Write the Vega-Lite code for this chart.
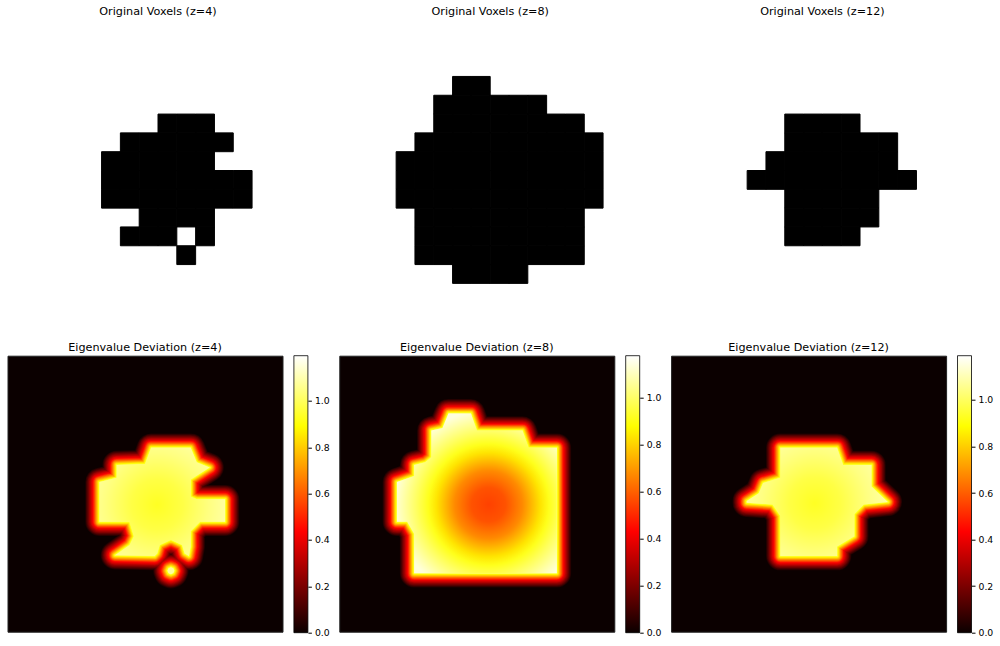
{"$schema":"https://vega.github.io/schema/vega-lite/v6.json","padding":{"left":6.5,"top":5,"right":0,"bottom":0},"background":"white","config":{"font":"DejaVu Sans","title":{"fontSize":11.2,"fontWeight":"normal","color":"#000","offset":3,"anchor":"middle"},"view":{"stroke":null},"axis":{"labelFontSize":9.3,"labelColor":"#000","tickColor":"#000","tickSize":3.5,"domain":false,"grid":false,"title":null,"labelPadding":3}},
"datasets":{
"v4":[{"c":8,"r":5},{"c":9,"r":5},{"c":10,"r":5},{"c":6,"r":6},{"c":7,"r":6},{"c":8,"r":6},{"c":9,"r":6},{"c":10,"r":6},{"c":11,"r":6},{"c":5,"r":7},{"c":6,"r":7},{"c":7,"r":7},{"c":8,"r":7},{"c":9,"r":7},{"c":10,"r":7},{"c":5,"r":8},{"c":6,"r":8},{"c":7,"r":8},{"c":8,"r":8},{"c":9,"r":8},{"c":10,"r":8},{"c":11,"r":8},{"c":12,"r":8},{"c":5,"r":9},{"c":6,"r":9},{"c":7,"r":9},{"c":8,"r":9},{"c":9,"r":9},{"c":10,"r":9},{"c":11,"r":9},{"c":12,"r":9},{"c":7,"r":10},{"c":8,"r":10},{"c":9,"r":10},{"c":10,"r":10},{"c":6,"r":11},{"c":7,"r":11},{"c":8,"r":11},{"c":10,"r":11},{"c":9,"r":12}],
"v8":[{"c":6,"r":3},{"c":7,"r":3},{"c":5,"r":4},{"c":6,"r":4},{"c":7,"r":4},{"c":8,"r":4},{"c":9,"r":4},{"c":10,"r":4},{"c":5,"r":5},{"c":6,"r":5},{"c":7,"r":5},{"c":8,"r":5},{"c":9,"r":5},{"c":10,"r":5},{"c":11,"r":5},{"c":12,"r":5},{"c":4,"r":6},{"c":5,"r":6},{"c":6,"r":6},{"c":7,"r":6},{"c":8,"r":6},{"c":9,"r":6},{"c":10,"r":6},{"c":11,"r":6},{"c":12,"r":6},{"c":13,"r":6},{"c":3,"r":7},{"c":4,"r":7},{"c":5,"r":7},{"c":6,"r":7},{"c":7,"r":7},{"c":8,"r":7},{"c":9,"r":7},{"c":10,"r":7},{"c":11,"r":7},{"c":12,"r":7},{"c":13,"r":7},{"c":3,"r":8},{"c":4,"r":8},{"c":5,"r":8},{"c":6,"r":8},{"c":7,"r":8},{"c":8,"r":8},{"c":9,"r":8},{"c":10,"r":8},{"c":11,"r":8},{"c":12,"r":8},{"c":13,"r":8},{"c":3,"r":9},{"c":4,"r":9},{"c":5,"r":9},{"c":6,"r":9},{"c":7,"r":9},{"c":8,"r":9},{"c":9,"r":9},{"c":10,"r":9},{"c":11,"r":9},{"c":12,"r":9},{"c":13,"r":9},{"c":4,"r":10},{"c":5,"r":10},{"c":6,"r":10},{"c":7,"r":10},{"c":8,"r":10},{"c":9,"r":10},{"c":10,"r":10},{"c":11,"r":10},{"c":12,"r":10},{"c":4,"r":11},{"c":5,"r":11},{"c":6,"r":11},{"c":7,"r":11},{"c":8,"r":11},{"c":9,"r":11},{"c":10,"r":11},{"c":11,"r":11},{"c":12,"r":11},{"c":4,"r":12},{"c":5,"r":12},{"c":6,"r":12},{"c":7,"r":12},{"c":8,"r":12},{"c":9,"r":12},{"c":10,"r":12},{"c":11,"r":12},{"c":12,"r":12},{"c":6,"r":13},{"c":7,"r":13},{"c":8,"r":13},{"c":9,"r":13}],
"v12":[{"c":6,"r":5},{"c":7,"r":5},{"c":8,"r":5},{"c":9,"r":5},{"c":6,"r":6},{"c":7,"r":6},{"c":8,"r":6},{"c":9,"r":6},{"c":10,"r":6},{"c":11,"r":6},{"c":5,"r":7},{"c":6,"r":7},{"c":7,"r":7},{"c":8,"r":7},{"c":9,"r":7},{"c":10,"r":7},{"c":11,"r":7},{"c":4,"r":8},{"c":5,"r":8},{"c":6,"r":8},{"c":7,"r":8},{"c":8,"r":8},{"c":9,"r":8},{"c":10,"r":8},{"c":11,"r":8},{"c":12,"r":8},{"c":6,"r":9},{"c":7,"r":9},{"c":8,"r":9},{"c":9,"r":9},{"c":10,"r":9},{"c":6,"r":10},{"c":7,"r":10},{"c":8,"r":10},{"c":9,"r":10},{"c":10,"r":10},{"c":6,"r":11},{"c":7,"r":11},{"c":8,"r":11},{"c":9,"r":11}],
"e4":[{"v":[0.04,0.08,0.12,0.16,0.2,0.24,0.28,0.32,0.36,0.4,0.46,0.52,0.58,0.64,0.7,0.76,0.82,0.88,0.94,1.0],"geo":{"type":"MultiPolygon","coordinates":[[[[8.35,5.35],[10.65,5.35],[11,6.2],[11.75,6.5],[10.65,7.2],[10.65,8.2],[11,8.35],[12.65,8.35],[12.65,9.65],[11.2,9.65],[10.65,10.2],[10.65,11.1],[10.55,11.65],[10.3,11.5],[10.15,11],[9.5,10.7],[8.85,11],[8.7,11.5],[8.55,11.65],[6.25,11.6],[7.1,11],[7.35,10.5],[7.1,9.65],[5.35,9.65],[5.35,7.35],[6.35,7.1],[6.35,6.35],[8,6.3],[8.35,5.35]]],[[[9.5,12.3],[9.64,12.36],[9.7,12.5],[9.64,12.64],[9.5,12.7],[9.36,12.64],[9.3,12.5],[9.36,12.36],[9.5,12.3]]]]}}],
"e8":[{"v":[0.04,0.08,0.12,0.16,0.2,0.24,0.28,0.32,0.36,0.4,0.46,0.52,0.58,0.64,0.7,0.76,0.82,0.88,0.94,1.0],"geo":{"type":"Polygon","coordinates":[[[6.35,3.35],[7.65,3.35],[8,4.35],[10.65,4.35],[11,5.35],[12.65,5.35],[12.65,12.65],[4.35,12.65],[4.35,10.35],[3.95,9.65],[3.35,9.65],[3.35,7.35],[4.35,7],[4.35,6.35],[5,6.2],[5.35,5.9],[5.35,4.35],[6,4.2],[6.35,3.35]]]}}],
"e12":[{"v":[0.04,0.08,0.12,0.16,0.2,0.24,0.28,0.32,0.36,0.4,0.46,0.52,0.58,0.64,0.7,0.76,0.82,0.88,0.94,1.0],"geo":{"type":"Polygon","coordinates":[[[6.35,5.35],[9.65,5.35],[10,6.35],[11.65,6.35],[11.65,7.6],[12.6,8.5],[11.2,8.65],[10.65,9.2],[10.65,10.5],[9.65,11.1],[9.65,11.65],[6.35,11.65],[6.35,9.3],[5.9,8.65],[4.4,8.55],[4.4,8.45],[5.1,8],[5.35,7.4],[6.35,7.1],[6.35,5.35]]]}}],
"cb4":[{"lo":0,"hi":1.195}],"cb8":[{"lo":0,"hi":1.18}],"cb12":[{"lo":0,"hi":1.19}]},
"vconcat":[
{"hconcat":[
{"title":"Original Voxels (z=4)","width":301,"height":301,"data":{"name":"v4"},"mark":{"type":"rect","color":"#000","stroke":"#000","strokeWidth":1},"encoding":{"x":{"field":"c","type":"ordinal","axis":null,"scale":{"domain":[0,1,2,3,4,5,6,7,8,9,10,11,12,13,14,15],"paddingInner":0,"paddingOuter":0}},"y":{"field":"r","type":"ordinal","axis":null,"scale":{"domain":[0,1,2,3,4,5,6,7,8,9,10,11,12,13,14,15],"paddingInner":0,"paddingOuter":0}}}},
{"title":"Original Voxels (z=8)","width":301,"height":301,"data":{"name":"v8"},"mark":{"type":"rect","color":"#000","stroke":"#000","strokeWidth":1},"encoding":{"x":{"field":"c","type":"ordinal","axis":null,"scale":{"domain":[0,1,2,3,4,5,6,7,8,9,10,11,12,13,14,15],"paddingInner":0,"paddingOuter":0}},"y":{"field":"r","type":"ordinal","axis":null,"scale":{"domain":[0,1,2,3,4,5,6,7,8,9,10,11,12,13,14,15],"paddingInner":0,"paddingOuter":0}}}},
{"title":"Original Voxels (z=12)","width":301,"height":301,"data":{"name":"v12"},"mark":{"type":"rect","color":"#000","stroke":"#000","strokeWidth":1},"encoding":{"x":{"field":"c","type":"ordinal","axis":null,"scale":{"domain":[0,1,2,3,4,5,6,7,8,9,10,11,12,13,14,15],"paddingInner":0,"paddingOuter":0}},"y":{"field":"r","type":"ordinal","axis":null,"scale":{"domain":[0,1,2,3,4,5,6,7,8,9,10,11,12,13,14,15],"paddingInner":0,"paddingOuter":0}}}}
],"spacing":31.2},
{"hconcat":[
{"hconcat":[
{"title":"Eigenvalue Deviation (z=4)","width":275,"height":276,"data":{"name":"e4"},"view":{"fill":"#0b0000","stroke":"#222"},"projection":{"type":"identity","scale":17.2,"translate":[0,0]},"layer":[
{"transform":[{"flatten":["v"]}],"mark":{"type":"geoshape","strokeJoin":"round"},"encoding":{"shape":{"field":"geo","type":"geojson"},"fill":{"field":"v","type":"quantitative","legend":null,"scale":{"domain":[0,0.434,0.888,1.19],"range":["#0b0000","#ff0000","#ffff00","#ffffff"],"interpolate":"rgb"}},"stroke":{"field":"v","type":"quantitative","legend":null,"scale":{"domain":[0,0.434,0.888,1.19],"range":["#0b0000","#ff0000","#ffff00","#ffffff"],"interpolate":"rgb"}},"strokeWidth":{"field":"v","type":"quantitative","legend":null,"scale":{"domain":[0,0.43,1],"range":[30,14,0]}}}},
{"mark":{"type":"geoshape","stroke":null,"fill":{"gradient":"radial","x1":0.459,"y1":0.45,"r1":0,"x2":0.459,"y2":0.45,"r2":0.61,"stops":[{"offset":0,"color":"#ffff23"},{"offset":0.33,"color":"#ffff45"},{"offset":0.67,"color":"#ffff80"},{"offset":1,"color":"#ffffb0"}]}},"encoding":{"shape":{"field":"geo","type":"geojson"}}}
]},
{"width":14,"height":277,"data":{"name":"cb4"},"mark":{"type":"rect","stroke":"#000","strokeWidth":0.8,"fill":{"gradient":"linear","x1":0,"y1":1,"x2":0,"y2":0,"stops":[{"offset":0,"color":"#0b0000"},{"offset":0.365,"color":"#ff0000"},{"offset":0.746,"color":"#ffff00"},{"offset":1,"color":"#ffffff"}]}},"encoding":{"y":{"field":"lo","type":"quantitative","scale":{"domain":[0,1.195],"nice":false},"axis":{"orient":"right","values":[0,0.2,0.4,0.6,0.8,1],"format":".1f"}},"y2":{"field":"hi"}}}
],"spacing":9.4},
{"hconcat":[
{"title":"Eigenvalue Deviation (z=8)","width":275,"height":276,"data":{"name":"e8"},"view":{"fill":"#0b0000","stroke":"#222"},"projection":{"type":"identity","scale":17.2,"translate":[0,0]},"layer":[
{"transform":[{"flatten":["v"]}],"mark":{"type":"geoshape","strokeJoin":"round"},"encoding":{"shape":{"field":"geo","type":"geojson"},"fill":{"field":"v","type":"quantitative","legend":null,"scale":{"domain":[0,0.434,0.888,1.19],"range":["#0b0000","#ff0000","#ffff00","#ffffff"],"interpolate":"rgb"}},"stroke":{"field":"v","type":"quantitative","legend":null,"scale":{"domain":[0,0.434,0.888,1.19],"range":["#0b0000","#ff0000","#ffff00","#ffffff"],"interpolate":"rgb"}},"strokeWidth":{"field":"v","type":"quantitative","legend":null,"scale":{"domain":[0,0.43,1],"range":[30,14,0]}}}},
{"mark":{"type":"geoshape","stroke":null,"fill":{"gradient":"radial","x1":0.573,"y1":0.571,"r1":0,"x2":0.573,"y2":0.571,"r2":0.59,"stops":[{"offset":0,"color":"#ff4100"},{"offset":0.18,"color":"#ff5200"},{"offset":0.36,"color":"#ff8a00"},{"offset":0.55,"color":"#ffe400"},{"offset":0.64,"color":"#ffff1b"},{"offset":0.76,"color":"#ffff5e"},{"offset":1,"color":"#ffffdd"}]}},"encoding":{"shape":{"field":"geo","type":"geojson"}}}
]},
{"width":14,"height":277,"data":{"name":"cb8"},"mark":{"type":"rect","stroke":"#000","strokeWidth":0.8,"fill":{"gradient":"linear","x1":0,"y1":1,"x2":0,"y2":0,"stops":[{"offset":0,"color":"#0b0000"},{"offset":0.365,"color":"#ff0000"},{"offset":0.746,"color":"#ffff00"},{"offset":1,"color":"#ffffff"}]}},"encoding":{"y":{"field":"lo","type":"quantitative","scale":{"domain":[0,1.18],"nice":false},"axis":{"orient":"right","values":[0,0.2,0.4,0.6,0.8,1],"format":".1f"}},"y2":{"field":"hi"}}}
],"spacing":9.4},
{"hconcat":[
{"title":"Eigenvalue Deviation (z=12)","width":275,"height":276,"data":{"name":"e12"},"view":{"fill":"#0b0000","stroke":"#222"},"projection":{"type":"identity","scale":17.2,"translate":[0,0]},"layer":[
{"transform":[{"flatten":["v"]}],"mark":{"type":"geoshape","strokeJoin":"round"},"encoding":{"shape":{"field":"geo","type":"geojson"},"fill":{"field":"v","type":"quantitative","legend":null,"scale":{"domain":[0,0.434,0.888,1.19],"range":["#0b0000","#ff0000","#ffff00","#ffffff"],"interpolate":"rgb"}},"stroke":{"field":"v","type":"quantitative","legend":null,"scale":{"domain":[0,0.434,0.888,1.19],"range":["#0b0000","#ff0000","#ffff00","#ffffff"],"interpolate":"rgb"}},"strokeWidth":{"field":"v","type":"quantitative","legend":null,"scale":{"domain":[0,0.43,1],"range":[30,14,0]}}}},
{"mark":{"type":"geoshape","stroke":null,"fill":{"gradient":"radial","x1":0.482,"y1":0.509,"r1":0,"x2":0.482,"y2":0.509,"r2":0.55,"stops":[{"offset":0,"color":"#ffff23"},{"offset":0.33,"color":"#ffff45"},{"offset":0.67,"color":"#ffff80"},{"offset":1,"color":"#ffffb0"}]}},"encoding":{"shape":{"field":"geo","type":"geojson"}}}
]},
{"width":14,"height":277,"data":{"name":"cb12"},"mark":{"type":"rect","stroke":"#000","strokeWidth":0.8,"fill":{"gradient":"linear","x1":0,"y1":1,"x2":0,"y2":0,"stops":[{"offset":0,"color":"#0b0000"},{"offset":0.365,"color":"#ff0000"},{"offset":0.746,"color":"#ffff00"},{"offset":1,"color":"#ffffff"}]}},"encoding":{"y":{"field":"lo","type":"quantitative","scale":{"domain":[0,1.19],"nice":false},"axis":{"orient":"right","values":[0,0.2,0.4,0.6,0.8,1],"format":".1f"}},"y2":{"field":"hi"}}}
],"spacing":9.4}
],"spacing":8.8}
],"spacing":19.7}
